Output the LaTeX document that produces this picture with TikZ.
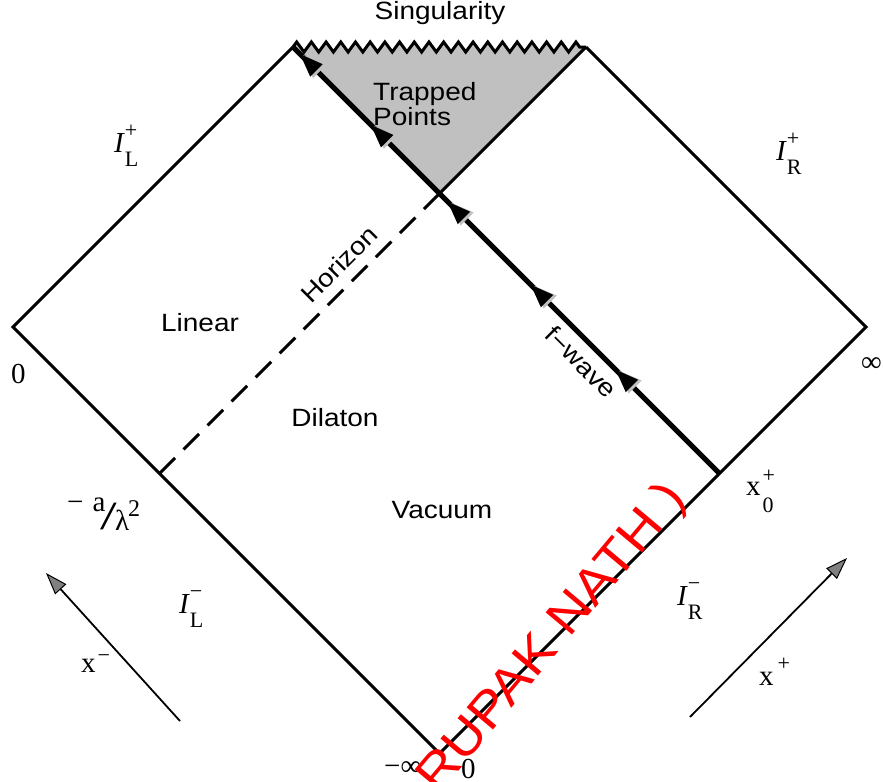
\documentclass[tikz,border=0pt]{standalone}
\usepackage{fontspec}
\setmainfont{Liberation Serif}
\setsansfont[FakeStretch=1.12]{Liberation Sans}
\usetikzlibrary{decorations.pathmorphing,decorations.markings,arrows.meta}
\newcommand\lblsmall{\fontsize{22}{22}\selectfont}
\newcommand\ILab[2]{\textit{I}\rlap{\raisebox{14.6pt}{\lblsmall #1}}\raisebox{-14pt}{\lblsmall #2}}
\newcommand\fwarrow{\arrow[trapgray,xshift=-3pt,yshift=-1.5pt]{Triangle[length=24pt,width=17pt]}\arrow[black]{Triangle[length=24pt,width=16pt]}}
\definecolor{trapgray}{HTML}{C0C0C0}
\definecolor{arrgray}{HTML}{808080}
\begin{document}
\begin{tikzpicture}[x=1pt,y=-1pt,
  edge/.style={line width=3pt},
  zz/.style={decoration={zigzag,segment length=14.7pt,amplitude=5pt}},
  fwave/.style={line width=5pt, postaction={decorate},
    decoration={markings,
      mark=at position 0.245 with {\fwarrow},
      mark=at position 0.444 with {\fwarrow},
      mark=at position 0.639 with {\fwarrow},
      mark=at position 0.819 with {\fwarrow},
      mark=at position 0.985 with {\fwarrow}}},
  xarrow/.style={line width=1.8pt, -{Triangle[length=22pt,width=15pt,fill=arrgray,line width=1pt]}},
  serif/.style={font=\fontsize{29}{31}\selectfont, inner sep=0pt, anchor=base west},
  sans/.style={font=\sffamily\fontsize{25}{28}\selectfont, inner sep=0pt, anchor=base}]
\useasboundingbox (0,0) rectangle (884,782);
\coordinate (L) at (13,327);
\coordinate (TL) at (293,47);
\coordinate (TR) at (586,47);
\coordinate (R) at (866,327);
\coordinate (B) at (439.5,753.5);
\coordinate (T) at (439.5,193.5);
\coordinate (H) at (159.5,473.5);
\coordinate (X0) at (719.5,473.5);
% trapped region
\fill[trapgray] (TL) decorate[zz]{-- (TR)} -- (T) -- cycle;
\draw[edge] (TL) decorate[zz]{-- (TR)};
\draw[edge] (TR) -- (R) -- (B) -- (L) -- (TL);
\draw[edge] (TR) -- (T);
\draw[edge, dash pattern=on 22pt off 12pt] (H) -- (T);
\draw[fwave] (X0) -- (TL);
% coordinate arrows
\coordinate (xmT) at (180,721); \coordinate (xmH) at (46,573);
\coordinate (xpT) at (690,717); \coordinate (xpH) at (847,558);
\draw[xarrow] (xmT) -- (xmH);
\draw[xarrow] (xpT) -- (xpH);
% sans labels
\node[sans] (sing) at (440,19.5) {Singularity};
\node[sans, anchor=base west] (trap1) at (373,100) {Trapped};
\node[sans, anchor=base west] (trap2) at (373,125.5) {Points};
\node[sans] (lin) at (200,331) {Linear};
\node[sans] (dil) at (335,426) {Dilaton};
\node[sans] (vac) at (442,518) {Vacuum};
\node[sans, anchor=center, rotate=45] (hor) at (339,264) {Horizon};
\node[sans, anchor=center, rotate=-45] (fw) at (581,362) {f−wave};
% serif labels
\node[serif] (ILp) at (114,152) {\ILab{+}{L}};
\node[serif] (IRp) at (776,160) {\ILab{+}{R}};
\node[serif] (ILm) at (179,613) {\ILab{−}{L}};
\node[serif] (IRm) at (677,605) {\ILab{−}{R}};
\node[serif] (zeroL) at (11,383) {0};
\node[serif] (infR) at (861,371) {∞};
\node[serif] (x0) at (746,495) {x\kern2pt\rlap{\raisebox{12.6pt}{\lblsmall +}}\raisebox{-17pt}{\lblsmall 0}};
\node[serif] (xm) at (81,672) {x\kern2pt\raisebox{9.5pt}{\lblsmall −}};
\node[serif] (xp) at (759,685) {x\kern4pt\raisebox{14.6pt}{\lblsmall +}};
\node[serif] (alam) at (67,511) {−\hspace{9pt}a\kern-5pt\raisebox{-18pt}{\scalebox{1.5}[1]{\fontsize{40}{40}\selectfont /}}\kern-2pt\raisebox{-19pt}{λ}\kern-1pt\raisebox{-5pt}{\fontsize{24}{24}\selectfont 2}};
\node[serif] (minf) at (384,775) {−∞};
\node[serif] (zeroB) at (461,778) {0};
% watermark
\node[red, font=\sffamily\fontsize{50}{50}\selectfont, rotate=50, inner sep=0pt] (wm) at (553,639) {RUPAK NATH )};
\end{tikzpicture}
\end{document}
